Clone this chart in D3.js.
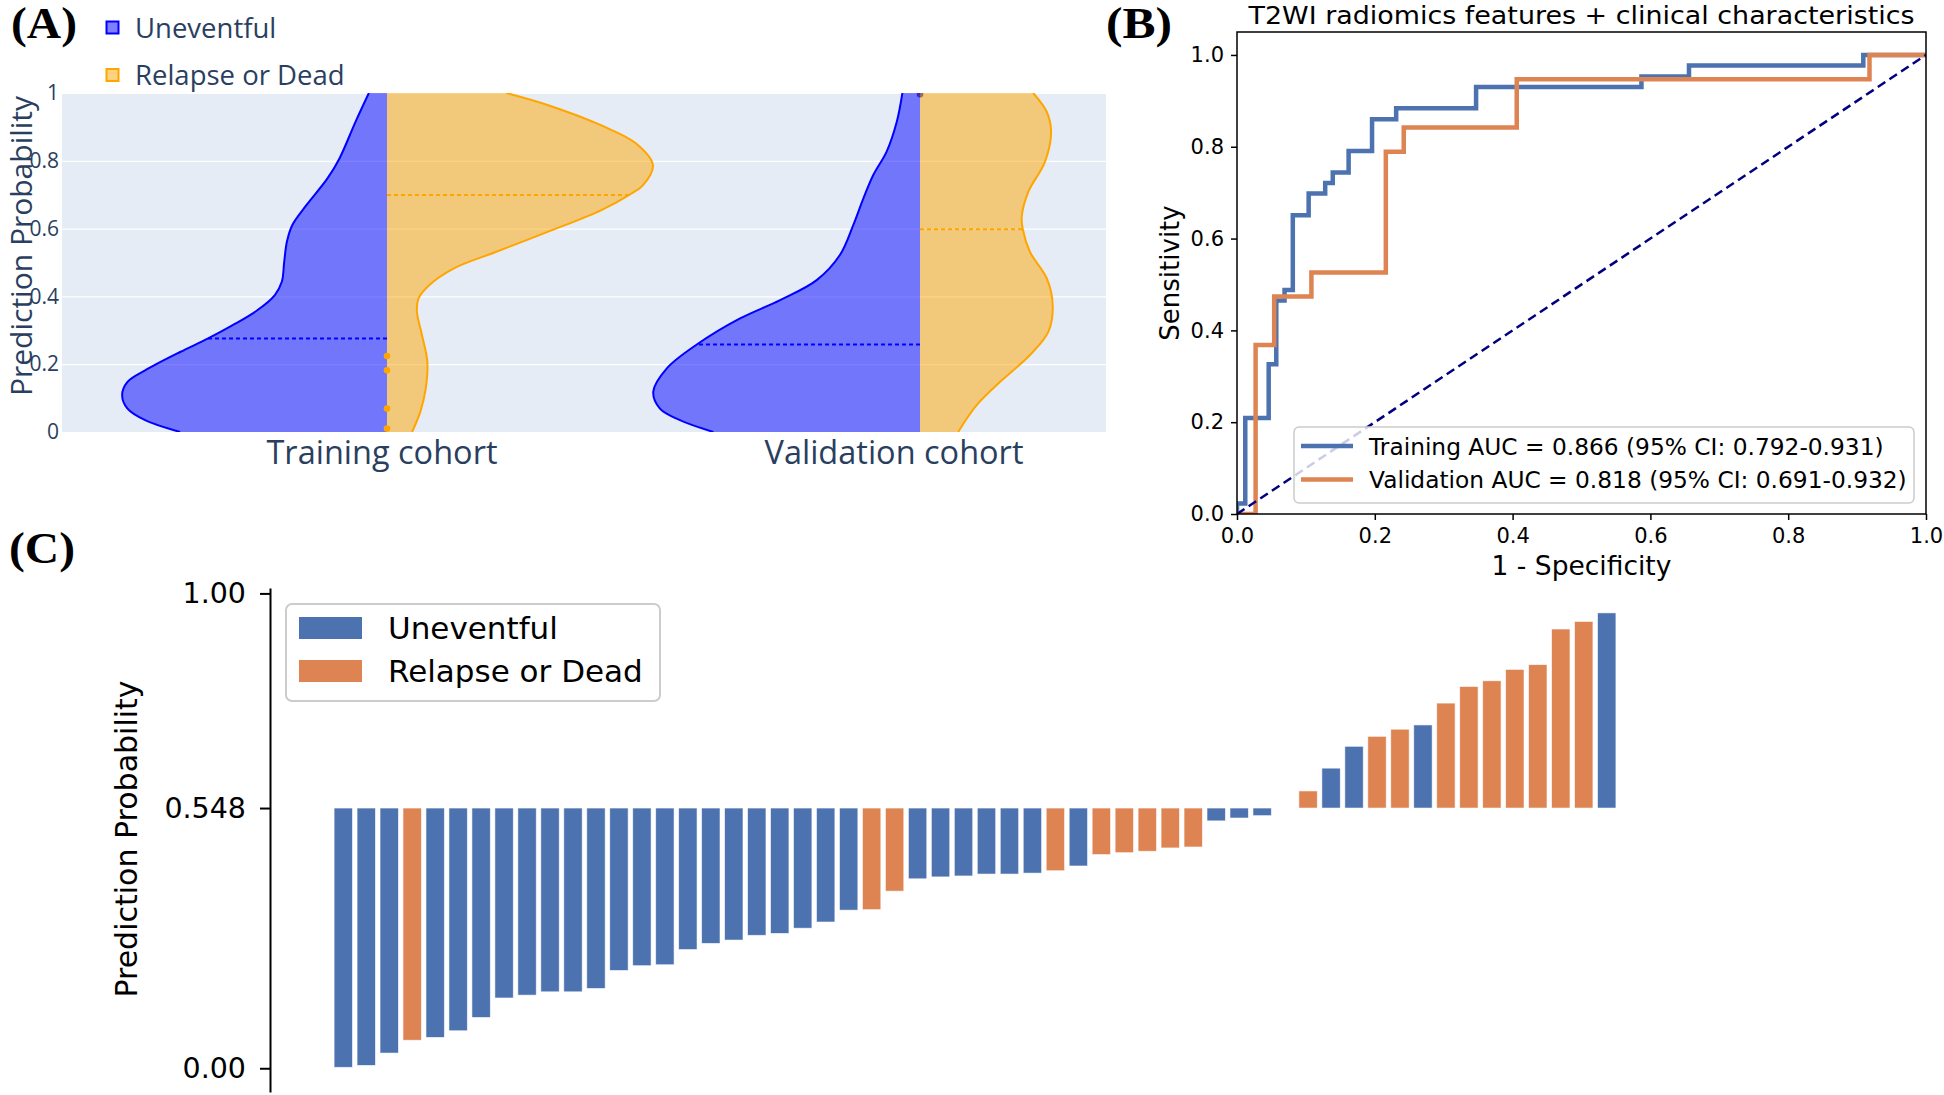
<!DOCTYPE html>
<html><head><meta charset="utf-8">
<script src="https://cdn.jsdelivr.net/npm/d3@7"></script>
<style>body{margin:0;background:#fff;}</style>
</head><body>
<svg id="c" width="1944" height="1095" xmlns="http://www.w3.org/2000/svg"></svg>
<script>
// ================= DATA =================
// Panel A: violin plots
const violinCategories = ["Training cohort", "Validation cohort"];
const violinGroups = ["Uneventful", "Relapse or Dead"];
const probTicksA = [0, 0.2, 0.4, 0.6, 0.8, 1];
const probTickLabelsA = ["0", "0.2", "0.4", "0.6", "0.8", "1"];

// density profiles (probability, relative density width)
const trainUneventfulProb = [0.0, 0.035, 0.069, 0.109, 0.148, 0.182, 0.236, 0.276, 0.315, 0.359, 0.404, 0.443, 0.502, 0.561, 0.610, 0.669, 0.748, 0.807, 0.915, 1.0];
const trainUneventfulDens = [0.775, 0.906, 0.972, 0.992, 0.972, 0.906, 0.775, 0.670, 0.578, 0.486, 0.420, 0.394, 0.385, 0.375, 0.355, 0.302, 0.223, 0.178, 0.118, 0.068];
const trainRelapseProb = [0.0, 0.060, 0.128, 0.207, 0.286, 0.355, 0.394, 0.433, 0.482, 0.531, 0.591, 0.654, 0.699, 0.728, 0.787, 0.851, 0.905, 0.964, 1.0];
const trainRelapseDens = [0.094, 0.125, 0.145, 0.151, 0.131, 0.112, 0.118, 0.158, 0.249, 0.407, 0.604, 0.801, 0.906, 0.959, 0.996, 0.933, 0.801, 0.604, 0.447];
const validUneventfulProb = [0.0, 0.035, 0.069, 0.119, 0.187, 0.258, 0.335, 0.389, 0.448, 0.522, 0.610, 0.689, 0.758, 0.827, 0.915, 1.0];
const validUneventfulDens = [0.774, 0.899, 0.974, 0.999, 0.949, 0.836, 0.674, 0.524, 0.387, 0.300, 0.250, 0.212, 0.175, 0.125, 0.087, 0.066];
const validRelapseProb = [0.0, 0.079, 0.148, 0.227, 0.296, 0.374, 0.453, 0.531, 0.598, 0.635, 0.709, 0.797, 0.886, 0.944, 1.0];
const validRelapseDens = [0.143, 0.212, 0.300, 0.412, 0.481, 0.497, 0.475, 0.412, 0.385, 0.381, 0.406, 0.468, 0.491, 0.475, 0.424];
const medianUneventful = [0.276, 0.258];
const medianRelapse = [0.699, 0.598];
const trainRelapseOutliers = [0.224, 0.182, 0.069, 0.010];
const validUneventfulOutliers = [0.996];

// Panel B: ROC curves
const rocTitle = "T2WI radiomics features + clinical characteristics";
const rocTicks = [0, 0.2, 0.4, 0.6, 0.8, 1.0];
const trainFpr = [0, 0, 0.012, 0.012, 0.046, 0.046, 0.057, 0.057, 0.069, 0.069, 0.081, 0.081, 0.104, 0.104, 0.128, 0.128, 0.139, 0.139, 0.162, 0.162, 0.196, 0.196, 0.231, 0.231, 0.347, 0.347, 0.587, 0.587, 0.656, 0.656, 0.909, 0.909, 1.0];
const trainTpr = [0, 0.023, 0.023, 0.209, 0.209, 0.326, 0.326, 0.465, 0.465, 0.488, 0.488, 0.651, 0.651, 0.698, 0.698, 0.721, 0.721, 0.744, 0.744, 0.791, 0.791, 0.860, 0.860, 0.884, 0.884, 0.930, 0.930, 0.953, 0.953, 0.977, 0.977, 1.0, 1.0];
const validFpr = [0, 0.027, 0.027, 0.054, 0.054, 0.108, 0.108, 0.216, 0.216, 0.242, 0.242, 0.406, 0.406, 0.918, 0.918, 1.0];
const validTpr = [0, 0, 0.368, 0.368, 0.474, 0.474, 0.526, 0.526, 0.789, 0.789, 0.842, 0.842, 0.947, 0.947, 1.0, 1.0];
const rocLegend = ["Training AUC = 0.866 (95% CI: 0.792-0.931)", "Validation AUC = 0.818 (95% CI: 0.691-0.932)"];

// Panel C: waterfall bars
const cutoff = 0.548;
const cTicks = [0, 0.548, 1.0];
const cTickLabels = ["0.00", "0.548", "1.00"];
const barValues = [0.002, 0.006, 0.032, 0.059, 0.065, 0.079, 0.107, 0.148, 0.154, 0.161, 0.161, 0.168, 0.206, 0.216, 0.218, 0.250,
  0.263, 0.270, 0.280, 0.284, 0.295, 0.308, 0.333, 0.334, 0.373, 0.399, 0.403, 0.405, 0.409, 0.409, 0.411, 0.416, 0.426,
  0.450, 0.454, 0.457, 0.464, 0.466, 0.521, 0.527, 0.532, 0.548, 0.584, 0.632, 0.678, 0.699, 0.714, 0.723, 0.769, 0.804,
  0.816, 0.840, 0.850, 0.925, 0.941, 0.959];
const barClasses = ["U","U","U","R","U","U","U","U","U","U","U","U","U","U","U","U",
  "U","U","U","U","U","U","U","R","R","U","U","U","U","U","U","R","U",
  "R","R","R","R","R","U","U","U","U","R","U","U","R","R","U","R","R",
  "R","R","R","R","R","U"];
const barLegend = ["Uneventful", "Relapse or Dead"];

// ================= DRAW =================
const svg = d3.select("#c");
svg.append("rect").attr("width", 1944).attr("height", 1095).attr("fill", "#fff");
const defs = svg.append("defs");

// ---------- Panel A ----------
const A = {x0: 62, x1: 1106, y0: 93, y1: 432};
const fA = "'Open Sans', sans-serif", cA = "#2a3f5f";
const yA = d3.scaleLinear().domain([0, 1]).range([A.y1, A.y0]);
const xViolin = d3.scaleLinear().domain([0, 1]).range([387, 920]);
const xCatLabel = d3.scaleLinear().domain([0, 1]).range([382, 894]);
const wA = d3.scaleLinear().domain([0, 1]).range([0, 267]);

const gA = svg.append("g");
gA.append("rect").attr("x", A.x0).attr("y", A.y0).attr("width", A.x1 - A.x0).attr("height", A.y1 - A.y0).attr("fill", "#E5ECF6");
const gyA = gA.append("g").attr("transform", `translate(${A.x0},0)`)
  .call(d3.axisLeft(yA).tickValues(probTicksA).tickFormat((d, i) => probTickLabelsA[i]).tickSize(-(A.x1 - A.x0)).tickPadding(3));
gyA.select(".domain").remove();
gyA.selectAll("line").attr("stroke", "#fff").attr("stroke-width", 1.2);
gyA.selectAll("text").attr("font-family", fA).attr("font-size", 21).attr("fill", cA);

defs.append("clipPath").attr("id", "clipA").append("rect")
  .attr("x", A.x0).attr("y", A.y0).attr("width", A.x1 - A.x0).attr("height", A.y1 - A.y0);
const gV = gA.append("g").attr("clip-path", "url(#clipA)");

const violins = [
  {cat: 0, side: -1, probs: trainUneventfulProb, dens: trainUneventfulDens, median: medianUneventful[0], fill: "rgba(0,0,255,0.5)", line: "#0000ff", out: []},
  {cat: 0, side: 1, probs: trainRelapseProb, dens: trainRelapseDens, median: medianRelapse[0], fill: "rgba(255,165,0,0.5)", line: "#ffa500", out: trainRelapseOutliers},
  {cat: 1, side: -1, probs: validUneventfulProb, dens: validUneventfulDens, median: medianUneventful[1], fill: "rgba(0,0,255,0.5)", line: "#0000ff", out: validUneventfulOutliers},
  {cat: 1, side: 1, probs: validRelapseProb, dens: validRelapseDens, median: medianRelapse[1], fill: "rgba(255,165,0,0.5)", line: "#ffa500", out: []}
];
violins.forEach(v => {
  const pts = v.probs.map((p, i) => [p, v.dens[i]]);
  const cx = xViolin(v.cat);
  const area = d3.area().curve(d3.curveCatmullRom.alpha(0.5))
    .y(d => yA(d[0])).x0(cx).x1(d => cx + v.side * wA(d[1]));
  const line = d3.line().curve(d3.curveCatmullRom.alpha(0.5))
    .x(d => cx + v.side * wA(d[1])).y(d => yA(d[0]));
  gV.append("path").attr("d", area(pts)).attr("fill", v.fill).attr("stroke", "none");
  gV.append("path").attr("d", line(pts)).attr("fill", "none").attr("stroke", v.line).attr("stroke-width", 2);
  let k = 0;
  while (k < v.probs.length - 2 && v.probs[k + 1] < v.median) k++;
  const t = (v.median - v.probs[k]) / (v.probs[k + 1] - v.probs[k]);
  const wm = v.dens[k] + t * (v.dens[k + 1] - v.dens[k]);
  gV.append("line").attr("x1", cx).attr("x2", cx + v.side * wA(wm))
    .attr("y1", yA(v.median)).attr("y2", yA(v.median))
    .attr("stroke", v.line).attr("stroke-width", 2).attr("stroke-dasharray", "4,3");
  v.out.forEach(o => {
    gV.append("circle").attr("cx", cx).attr("cy", yA(o)).attr("r", 3.3)
      .attr("fill", v.side < 0 ? "#3b2bbf" : "#ffa500");
  });
});

violinCategories.forEach((c, i) => {
  gA.append("text").attr("x", xCatLabel(i)).attr("y", 464).attr("text-anchor", "middle")
    .attr("font-family", fA).attr("font-size", 32.5).attr("fill", cA).text(c);
});
gA.append("text").attr("transform", "translate(32.2,246) rotate(-90)").attr("text-anchor", "middle")
  .attr("font-family", fA).attr("font-size", 30).attr("fill", cA).text("Prediction Probability");
const legAFill = ["rgba(0,0,255,0.5)", "rgba(255,165,0,0.5)"], legALine = ["#0000ff", "#ffa500"];
violinGroups.forEach((g, i) => {
  const cy = 27.5 + i * 47.5;
  gA.append("rect").attr("x", 106.5).attr("y", cy - 6).attr("width", 12).attr("height", 12)
    .attr("fill", legAFill[i]).attr("stroke", legALine[i]).attr("stroke-width", 2);
  gA.append("text").attr("x", 135).attr("y", cy + 10).attr("font-family", fA).attr("font-size", 27.5)
    .attr("fill", cA).text(g);
});

// panel labels
const panelFont = "'Liberation Serif', 'Times New Roman', serif";
[["(A)", 11, 38], ["(B)", 1106, 38], ["(C)", 9, 563]].forEach(p => {
  svg.append("text").attr("x", p[1]).attr("y", p[2]).attr("font-family", panelFont).attr("font-weight", "bold")
    .attr("font-size", 44).attr("textLength", 66).attr("lengthAdjust", "spacingAndGlyphs").attr("fill", "#000").text(p[0]);
});

// ---------- Panel B ----------
const B = {x0: 1237, x1: 1926, y0: 32, y1: 514};
const fB = "'DejaVu Sans', sans-serif";
const xB = d3.scaleLinear().domain([0, 1]).range([B.x0, B.x1]);
const yB = d3.scaleLinear().domain([0, 1.05]).range([B.y1, B.y0]);
const gB = svg.append("g");
defs.append("clipPath").attr("id", "clipB").append("rect")
  .attr("x", B.x0).attr("y", B.y0).attr("width", B.x1 - B.x0).attr("height", B.y1 - B.y0);
const gBc = gB.append("g").attr("clip-path", "url(#clipB)");
const rocLine = d3.line().x(d => xB(d[0])).y(d => yB(d[1]));
gBc.append("path").attr("d", rocLine(trainFpr.map((f, i) => [f, trainTpr[i]])))
  .attr("fill", "none").attr("stroke", "#4C72B0").attr("stroke-width", 4.5);
gBc.append("path").attr("d", rocLine(validFpr.map((f, i) => [f, validTpr[i]])))
  .attr("fill", "none").attr("stroke", "#DD8452").attr("stroke-width", 4.5);
gBc.append("path").attr("d", rocLine([[0, 0], [1, 1]]))
  .attr("fill", "none").attr("stroke", "#000080").attr("stroke-width", 2.5).attr("stroke-dasharray", "9,5");

gB.append("rect").attr("x", 1294).attr("y", 427).attr("width", 620).attr("height", 76).attr("rx", 5)
  .attr("fill", "#fff").attr("fill-opacity", 0.8).attr("stroke", "#cccccc").attr("stroke-width", 1.5);
const rocColors = ["#4C72B0", "#DD8452"];
rocLegend.forEach((t, i) => {
  const ly = 446 + i * 33.5;
  gB.append("line").attr("x1", 1301).attr("x2", 1353).attr("y1", ly).attr("y2", ly)
    .attr("stroke", rocColors[i]).attr("stroke-width", 4.5);
  gB.append("text").attr("x", 1369).attr("y", ly + 8.5).attr("font-family", fB).attr("font-size", 23.3)
    .attr("fill", "#000").text(t);
});

const gxB = gB.append("g").attr("transform", `translate(0,${B.y1})`)
  .call(d3.axisBottom(xB).tickValues(rocTicks).tickFormat(d3.format(".1f")).tickSize(6).tickPadding(8).tickSizeOuter(0));
const gyB = gB.append("g").attr("transform", `translate(${B.x0},0)`)
  .call(d3.axisLeft(yB).tickValues(rocTicks).tickFormat(d3.format(".1f")).tickSize(6).tickPadding(7).tickSizeOuter(0));
[gxB, gyB].forEach(g => {
  g.select(".domain").remove();
  g.selectAll("line").attr("stroke", "#000").attr("stroke-width", 1.5);
  g.selectAll("text").attr("font-family", fB).attr("font-size", 21).attr("fill", "#000");
});
gB.append("rect").attr("x", B.x0).attr("y", B.y0).attr("width", B.x1 - B.x0).attr("height", B.y1 - B.y0)
  .attr("fill", "none").attr("stroke", "#000").attr("stroke-width", 1.5);
gB.append("text").attr("x", (B.x0 + B.x1) / 2).attr("y", 24).attr("text-anchor", "middle")
  .attr("font-family", fB).attr("font-size", 25).attr("textLength", 666).attr("lengthAdjust", "spacingAndGlyphs")
  .attr("fill", "#000").text(rocTitle);
gB.append("text").attr("x", (B.x0 + B.x1) / 2).attr("y", 575).attr("text-anchor", "middle")
  .attr("font-family", fB).attr("font-size", 26.5).attr("fill", "#000").text("1 - Specificity");
gB.append("text").attr("transform", `translate(1179,${(B.y0 + B.y1) / 2}) rotate(-90)`).attr("text-anchor", "middle")
  .attr("font-family", fB).attr("font-size", 26).attr("fill", "#000").text("Sensitivity");

// ---------- Panel C ----------
const fC = "'DejaVu Sans', sans-serif";
const xC = d3.scaleLinear().domain([-3.19, 58.19]).range([270, 1680]);
const yC = d3.scaleLinear().domain([-0.05, 1.0114]).range([1092, 588]);
const gC = svg.append("g");
const barColor = {U: "#4C72B0", R: "#DD8452"};
gC.selectAll("rect.bar").data(barValues).enter().append("rect").attr("class", "bar")
  .attr("x", (d, i) => xC(i - 0.4))
  .attr("width", (d, i) => xC(i + 0.4) - xC(i - 0.4))
  .attr("y", d => yC(Math.max(d, cutoff)))
  .attr("height", d => Math.abs(yC(d) - yC(cutoff)))
  .attr("fill", (d, i) => barColor[barClasses[i]])
  .attr("stroke", "#ffffff").attr("stroke-width", 0.8).attr("stroke-opacity", 0.7);

const gyC = gC.append("g").attr("transform", "translate(270,0)")
  .call(d3.axisLeft(yC).tickValues(cTicks).tickFormat((d, i) => cTickLabels[i]).tickSize(10).tickPadding(14).tickSizeOuter(0));
gyC.select(".domain").attr("stroke", "#000").attr("stroke-width", 2);
gyC.selectAll("line").attr("stroke", "#000").attr("stroke-width", 2);
gyC.selectAll("text").attr("font-family", fC).attr("font-size", 28.5).attr("fill", "#000");
gC.append("text").attr("transform", "translate(137,839) rotate(-90)").attr("text-anchor", "middle")
  .attr("font-family", fC).attr("font-size", 30).attr("fill", "#000").text("Prediction Probability");

gC.append("rect").attr("x", 286).attr("y", 604).attr("width", 374).attr("height", 97).attr("rx", 6)
  .attr("fill", "#fff").attr("fill-opacity", 0.8).attr("stroke", "#cccccc").attr("stroke-width", 2);
["U", "R"].forEach((k, i) => {
  const py = 617 + i * 43;
  gC.append("rect").attr("x", 299).attr("y", py).attr("width", 63).attr("height", 22).attr("fill", barColor[k]);
  gC.append("text").attr("x", 388).attr("y", py + 22).attr("font-family", fC).attr("font-size", 31)
    .attr("fill", "#000").text(barLegend[i]);
});
</script>
</body></html>
